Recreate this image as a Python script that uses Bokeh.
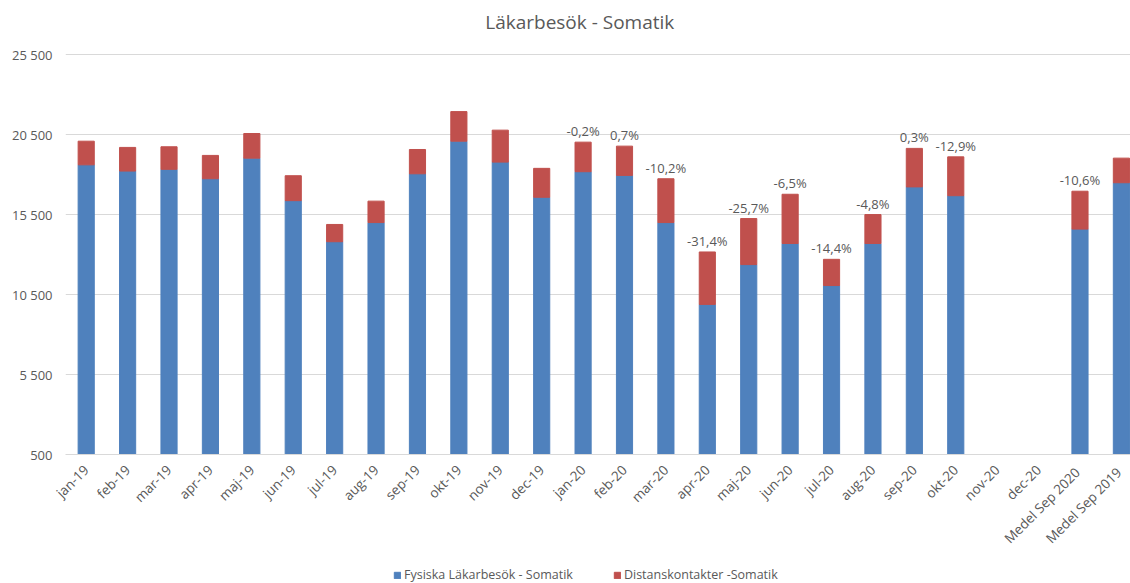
import math
from bokeh.plotting import figure
from bokeh.layouts import column
from bokeh.models import (Range1d, FixedTicker, Legend, LegendItem, Label,
                          ColumnDataSource)
from bokeh.embed import file_html
from bokeh.resources import INLINE
from bokeh.core.properties import value

nan = float("nan")

categories = ["jan-19", "feb-19", "mar-19", "apr-19", "maj-19", "jun-19",
              "jul-19", "aug-19", "sep-19", "okt-19", "nov-19", "dec-19",
              "jan-20", "feb-20", "mar-20", "apr-20", "maj-20", "jun-20",
              "jul-20", "aug-20", "sep-20", "okt-20", "nov-20", "dec-20",
              "Medel Sep  2020", "Medel Sep  2019"]
fysiska = [18620, 18230, 18340, 17750, 19040, 16380, 13810, 15010, 18060,
           20100, 18790, 16590, 18190, 17960, 15010, 9890, 12380, 13700,
           11070, 13700, 17240, 16690, nan, nan, 14600, 17500]
distans = [1480, 1480, 1410, 1460, 1540, 1560, 1080, 1340, 1520,
           1850, 2000, 1810, 1850, 1830, 2740, 3280, 2880, 3080,
           1640, 1810, 2410, 2430, nan, nan, 2370, 1540]
pct_labels = ["", "", "", "", "", "", "", "", "", "", "", "",
              "-0,2%", "0,7%", "-10,2%", "-31,4%", "-25,7%", "-6,5%",
              "-14,4%", "-4,8%", "0,3%", "-12,9%", "", "", "-10,6%", ""]
y_ticks = [500, 5500, 10500, 15500, 20500, 25500]
y_tick_labels = ["500", "5 500", "10 500", "15 500", "20 500", "25 500"]
title_text = "Läkarbesök - Somatik"
legend_labels = ["Fysiska Läkarbesök - Somatik", "Distanskontakter -Somatik"]

BLUE = "#4F81BD"
RED = "#C0504D"
GREY = "#595959"
FONT = "Open Sans"

xs = list(range(len(categories)))
totals = [f + d for f, d in zip(fysiska, distans)]
src = ColumnDataSource(dict(x=xs, fysiska=fysiska, distans=distans))
lab_src = ColumnDataSource(dict(
    x=[x for x, t in zip(xs, pct_labels) if t],
    y=[y for y, t in zip(totals, pct_labels) if t],
    t=[t for t in pct_labels if t]))

# frame spans the full top of the figure so the title can sit inside it;
# the visible value axis still runs 500 .. 25 500
H_MAIN = 556
FRAME_BOTTOM = 456
PX_PER_UNIT = 401.4 / 25000.0
Y_TOP = 500 + FRAME_BOTTOM / PX_PER_UNIT

p = figure(width=1130, height=H_MAIN, output_backend="svg",
           toolbar_location=None,
           x_range=Range1d(-0.5, 25.22), y_range=Range1d(500, Y_TOP),
           min_border_left=65, min_border_right=0, min_border_top=0,
           min_border_bottom=H_MAIN - FRAME_BOTTOM)
p.outline_line_color = None
p.background_fill_color = "white"
p.border_fill_color = "white"

rs = p.vbar_stack(["fysiska", "distans"], x="x", width=0.39,
                  color=[BLUE, RED], source=src)

p.text(x="x", y="y", text="t", source=lab_src, text_align="center",
       text_baseline="middle", y_offset=-11, text_font=value(FONT),
       text_font_size="13px", text_color=GREY)

# chart title (centred over the bars area, like the original)
p.add_layout(Label(x=11.92, y=25500 + 33 / PX_PER_UNIT, text=title_text,
                   text_align="center", text_baseline="middle",
                   text_font=FONT, text_font_size="19px", text_color=GREY))

# axes
p.xaxis.ticker = FixedTicker(ticks=xs)
p.xaxis.major_label_overrides = {i: c for i, c in zip(xs, categories)}
p.xaxis.major_label_orientation = math.pi / 4
p.xaxis.axis_line_color = "#D9D9D9"
p.xaxis.major_tick_line_color = None
p.xaxis.major_tick_out = 0
p.xaxis.major_tick_in = 0
p.xaxis.minor_tick_line_color = None
p.xaxis.major_label_text_font = FONT
p.xaxis.major_label_text_font_size = "13.5px"
p.xaxis.major_label_text_color = GREY
p.xaxis.major_label_standoff = 13

p.yaxis.ticker = FixedTicker(ticks=y_ticks)
p.yaxis.major_label_overrides = {t: l for t, l in zip(y_ticks, y_tick_labels)}
p.yaxis.axis_line_color = None
p.yaxis.major_tick_line_color = None
p.yaxis.major_tick_out = 0
p.yaxis.major_tick_in = 0
p.yaxis.minor_tick_line_color = None
p.yaxis.major_label_text_font = FONT
p.yaxis.major_label_text_font_size = "13px"
p.yaxis.major_label_text_color = GREY
p.yaxis.major_label_standoff = 13

p.xgrid.grid_line_color = None
p.ygrid.ticker = FixedTicker(ticks=y_ticks)
p.ygrid.grid_line_color = "#D9D9D9"

# legend strip below the chart
H_LEG = 583 - H_MAIN
lf = figure(width=1130, height=H_LEG, output_backend="svg",
            toolbar_location=None, x_axis_location=None,
            y_axis_location=None, min_border=0,
            x_range=Range1d(0, 1), y_range=Range1d(0, 1))
lf.outline_line_color = None
lf.grid.visible = False
proxy = ColumnDataSource(dict(x=[nan], top=[nan]))
l1 = lf.vbar(x="x", top="top", width=0.1, color=BLUE, source=proxy)
l2 = lf.vbar(x="x", top="top", width=0.1, color=RED, source=proxy)
legend = Legend(items=[LegendItem(label=legend_labels[0], renderers=[l1]),
                       LegendItem(label=legend_labels[1], renderers=[l2])],
                orientation="horizontal", location=(328, 0),
                border_line_color=None, background_fill_alpha=0,
                padding=0, margin=0, spacing=40, glyph_width=8,
                glyph_height=8, label_standoff=3, label_height=12,
                label_text_font=FONT, label_text_font_size="12.5px",
                label_text_color=GREY)
lf.add_layout(legend, "center")

layout = column(p, lf, spacing=0)
open("out.html", "w").write(file_html(layout, INLINE))
